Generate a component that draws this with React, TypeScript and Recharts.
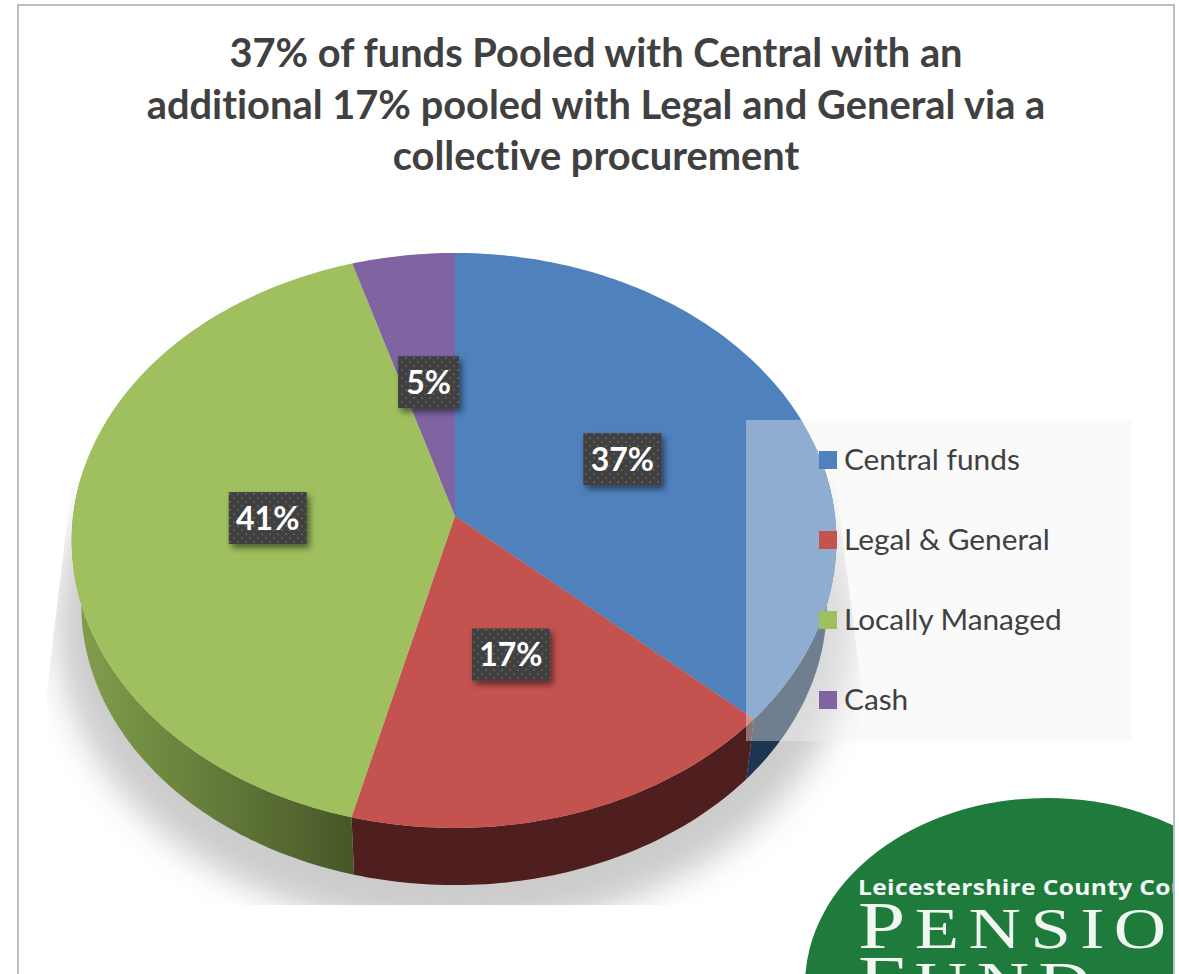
import React from "react";
import { PieChart, Pie, Legend } from "recharts";

const categories = ["Central funds", "Legal & General", "Locally Managed", "Cash"];
const shares = [36.7, 17.3, 41.3, 4.7];
const colors = ["#4f81bd", "#c4524f", "#a0c05f", "#8064a2"];
const wallColors = ["#1d3752", "#4f1f1f", "url(#greenWall)", "#4a3a60"];
const titleLines = [
  "37% of funds Pooled with Central with an",
  "additional 17% pooled with Legal and General via a",
  "collective procurement",
];
const rows = categories.map((name, i) => ({ name, value: shares[i], fill: colors[i], wall: wallColors[i] }));

const FONT = "Lato, 'Noto Sans', sans-serif";
const TILT = 0.0851;
const SQUASH = 0.751;
const LEFT_STRETCH = 1.005;
const WALL_SCALE = 0.975;
const WALL_DROP = 65;

function project(cx: number, cy: number, r: number, clockwise: number, scale = 1, drop = 0, frac = 1) {
  const a = (clockwise * Math.PI) / 180;
  const u = Math.sin(a) * frac;
  const v = Math.cos(a) * frac;
  const w = 1 + TILT * v;
  const k = u < 0 ? LEFT_STRETCH : 1;
  return [cx + (r * scale * k * u) / w, cy + drop - (r * SQUASH * scale * v) / w];
}

function arcPoints(cx: number, cy: number, r: number, from: number, to: number, scale = 1, drop = 0) {
  const pts: number[][] = [];
  const n = Math.max(2, Math.ceil(Math.abs(to - from)));
  for (let i = 0; i <= n; i++) pts.push(project(cx, cy, r, from + ((to - from) * i) / n, scale, drop));
  return pts;
}
const toPath = (pts: number[][]) => pts.map((p, i) => `${i ? "L" : "M"}${p[0].toFixed(1)} ${p[1].toFixed(1)}`).join(" ") + " Z";

function Slice(props: any) {
  const { cx, cy, outerRadius, startAngle, endAngle, fill, wall } = props;
  const from = 90 - startAngle;
  const to = 90 - endAngle;
  const wf = Math.max(from, 80);
  const wt = Math.min(to, 280);
  const top = [[cx, cy], ...arcPoints(cx, cy, outerRadius, from, to)];
  return (
    <g>
      {wt > wf && (
        <path
          d={toPath([
            ...arcPoints(cx, cy, outerRadius, wf, wt),
            ...arcPoints(cx, cy, outerRadius, wt, wf, WALL_SCALE, WALL_DROP),
          ])}
          fill={wall}
        />
      )}
      <path d={toPath(top)} fill={fill} />
    </g>
  );
}

function DataLabel(props: any) {
  const { cx, cy, outerRadius, midAngle, value } = props;
  const [px, py] = project(cx, cy, outerRadius, 90 - midAngle, 1, 0, 0.49);
  const x = px;
  const y = py - 1;
  const text = `${Math.round(value)}%`;
  const w = text.length > 2 ? 78 : 61;
  return (
    <g>
      <rect x={x - w / 2} y={y - 26} width={w} height={52} fill="#404040" filter="url(#labelShadow)" />
      <rect x={x - w / 2} y={y - 26} width={w} height={52} fill="url(#dots)" />
      <text x={x} y={y + 12} textAnchor="middle" fill="#ffffff" fontFamily={FONT} fontWeight={700} fontSize={32}>
        {text}
      </text>
    </g>
  );
}

function LegendBox(props: any) {
  const items = props.payload || [];
  return (
    <div style={{ position: "relative", width: 386, height: 321, background: "rgba(242,242,242,0.39)" }}>
      {items.map((it: any, i: number) => (
        <div key={i} style={{ position: "absolute", left: 73, top: 31 + i * 80, width: 300, height: 18 }}>
          <div style={{ position: "absolute", left: 0, top: 0, width: 18, height: 18, background: it.color }} />
          <div
            style={{
              position: "absolute", left: 25, top: -12, lineHeight: "40px", whiteSpace: "nowrap",
              fontFamily: FONT, fontSize: 29.8, color: "#404040",
            }}
          >
            {it.value}
          </div>
        </div>
      ))}
    </div>
  );
}

export default function App() {
  return (
    <div style={{ position: "absolute", left: 0, top: 0, width: 1179, height: 974, overflow: "hidden", background: "#fff" }}>
      <PieChart width={1179} height={974} margin={{ top: 0, right: 0, bottom: 0, left: 0 }}>
        <defs>
          <linearGradient id="greenWall" gradientUnits="userSpaceOnUse" x1="75" y1="0" x2="352" y2="0">
            <stop offset="0" stopColor="#829f4c" />
            <stop offset="1" stopColor="#475828" />
          </linearGradient>
          <filter id="labelShadow" x="-20%" y="-20%" width="150%" height="150%">
            <feDropShadow dx="3" dy="4" stdDeviation="3" floodColor="#000" floodOpacity="0.5" />
          </filter>
          <pattern id="dots" width="8" height="8" patternUnits="userSpaceOnUse">
            <rect x="1" y="1" width="2" height="2" fill="#5a5a5a" />
            <rect x="5" y="5" width="2" height="2" fill="#5a5a5a" />
          </pattern>
          <filter id="blurShadow" x="-10%" y="-10%" width="120%" height="120%">
            <feGaussianBlur stdDeviation="16" />
          </filter>
          <clipPath id="shadowClip">
            <path d="M72 480 L47 690 L47 905 L862 905 L862 690 L835 480 Z" />
          </clipPath>
          <clipPath id="logoClip">
            <rect x="0" y="0" width="1174" height="974" />
          </clipPath>
        </defs>

        <g clipPath="url(#shadowClip)">
          <ellipse cx={455} cy={625} rx={398} ry={305} fill="#cccccc" filter="url(#blurShadow)" />
        </g>

        <g clipPath="url(#logoClip)">
          <ellipse cx={1047} cy={985} rx={242} ry={187} fill="#1e7b3c" />
          <text transform="translate(858,895) scale(1.17,1)" fill="#f4f8f4" fontFamily="'Open Sans', sans-serif" fontWeight={700} fontSize={21} letterSpacing={0.3}>
            Leicestershire County Council
          </text>
          <text transform="translate(858,948) scale(1.25,1)" fill="#f0f6f0" fontFamily="'Liberation Serif', serif" fontSize={58} letterSpacing={7.6}>
            <tspan fontSize={68}>P</tspan>ENSION
          </text>
          <text transform="translate(858,1002) scale(1.25,1)" fill="#f0f6f0" fontFamily="'Liberation Serif', serif" fontSize={58} letterSpacing={7.6}>
            <tspan fontSize={68}>F</tspan>UND
          </text>
        </g>

        <rect x={18} y={5} width={1156} height={1100} fill="none" stroke="#bfbfbf" strokeWidth={2} />

        {titleLines.map((line, i) => (
          <text
            key={i}
            x={596}
            y={67 + i * 51.5}
            textAnchor="middle"
            fill="#404040"
            fontFamily={FONT}
            fontWeight={700}
            fontSize={39.8}
            style={{ fontVariantLigatures: "none" }}
          >
            {line}
          </text>
        ))}

        <Pie
          data={rows}
          dataKey="value"
          nameKey="name"
          cx={455}
          cy={516}
          outerRadius={380}
          startAngle={90}
          endAngle={-270}
          paddingAngle={0}
          stroke="none"
          shape={Slice}
          label={DataLabel}
          labelLine={false}
          isAnimationActive={false}
        />
        <Legend
          content={LegendBox}
          itemSorter={null}
          layout="vertical"
          wrapperStyle={{ left: 746, top: 420, width: 386, height: 321, right: "auto", bottom: "auto" }}
        />
      </PieChart>
    </div>
  );
}
